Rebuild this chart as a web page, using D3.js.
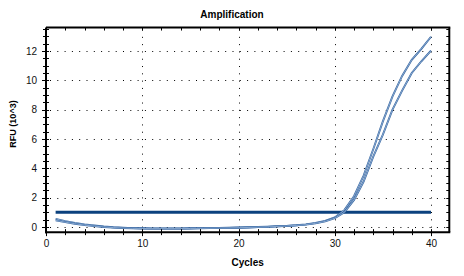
<!DOCTYPE html>
<html>
<head>
<meta charset="utf-8">
<script src="https://cdn.jsdelivr.net/npm/d3@7/dist/d3.min.js"></script>
<style>
  body { margin: 0; background: #fff; }
  text { font-family: Arial, "Liberation Sans", sans-serif; }
</style>
</head>
<body>
<svg id="chart" width="464" height="276"></svg>
<script>
// Cycle numbers
var cycles = [1, 2, 3, 4, 5, 6, 7, 8, 9, 10, 11, 12, 13, 14, 15, 16, 17, 18, 19, 20,
              21, 22, 23, 24, 25, 26, 27, 28, 29, 30, 31, 32, 33, 34, 35, 36, 37, 38, 39, 40];

// RFU (10^3) for the two wells
var wellA = [0.55, 0.40, 0.28, 0.18, 0.10, 0.03, -0.02, -0.05, -0.08, -0.09,
             -0.10, -0.10, -0.10, -0.10, -0.09, -0.08, -0.07, -0.06, -0.05, -0.03,
             -0.02, 0.00, 0.02, 0.05, 0.08, 0.12, 0.18, 0.28, 0.42, 0.65,
             1.15, 2.10, 3.50, 5.30, 7.20, 8.90, 10.30, 11.40, 12.15, 12.97];
var wellB = [0.45, 0.33, 0.22, 0.13, 0.06, 0.00, -0.04, -0.07, -0.09, -0.10,
             -0.11, -0.11, -0.11, -0.11, -0.10, -0.09, -0.08, -0.07, -0.06, -0.05,
             -0.03, -0.01, 0.01, 0.04, 0.07, 0.11, 0.16, 0.25, 0.38, 0.60,
             1.00, 1.85, 3.10, 4.80, 6.30, 8.00, 9.30, 10.50, 11.30, 12.02];

// Threshold line
var threshold = 1.0;
var thresholdRange = [1, 40];

// Tick labels
var xTicks = [0, 10, 20, 30, 40];
var yTicks = [0, 2, 4, 6, 8, 10, 12];

var svg = d3.select("#chart");

// Scales
var x = d3.scaleLinear().domain([0, 40]).range([46, 431]);
var y = d3.scaleLinear().domain([0, 12]).range([227, 51]);

// plot box edges
var xMax = 41.9, yMin = -0.35, yMax = 13.6;
var boxL = x(0), boxR = x(xMax), boxT = y(yMax), boxB = y(yMin);

var xMinor = d3.range(0, 41, 2);
var yMinor = d3.range(0, 13.51, 0.5);

// Grid (dotted)
var grid = svg.append("g")
    .attr("stroke", "#000")
    .attr("stroke-width", 1)
    .attr("stroke-dasharray", "1,6.3");

grid.selectAll(".gx")
    .data(xTicks.filter(d => d > 0))
    .enter().append("line")
    .attr("x1", d => Math.round(x(d)) + 0.5)
    .attr("x2", d => Math.round(x(d)) + 0.5)
    .attr("y1", boxT + 2)
    .attr("y2", boxB);

grid.selectAll(".gy")
    .data(yTicks)
    .enter().append("line")
    .attr("x1", boxL + 4)
    .attr("x2", boxR)
    .attr("y1", d => Math.round(y(d)) + 0.5)
    .attr("y2", d => Math.round(y(d)) + 0.5);

// Threshold
svg.append("line")
    .attr("x1", x(thresholdRange[0]))
    .attr("x2", x(thresholdRange[1]))
    .attr("y1", y(threshold))
    .attr("y2", y(threshold))
    .attr("stroke", "#0b417e")
    .attr("stroke-width", 3);

// Amplification curves
var line = d3.line()
    .x((d, i) => x(cycles[i]))
    .y(d => y(d));

[wellA, wellB].forEach(function(s) {
    svg.append("path")
        .attr("d", line(s))
        .attr("fill", "none")
        .attr("stroke", "#3263a0")
        .attr("stroke-width", 1.9);
    svg.append("path")
        .attr("d", line(s))
        .attr("fill", "none")
        .attr("stroke", "#c3d6ee")
        .attr("stroke-width", 0.6);
});

// Frame
var frame = svg.append("g")
    .attr("stroke", "#000")
    .attr("stroke-width", 2)
    .attr("fill", "none");
frame.append("line").attr("x1", boxL).attr("x2", boxL).attr("y1", boxT).attr("y2", boxB + 1);
frame.append("line").attr("x1", boxL - 1).attr("x2", boxR + 1).attr("y1", boxB).attr("y2", boxB);
frame.append("line").attr("x1", boxL).attr("x2", boxR + 1).attr("y1", boxT).attr("y2", boxT);
frame.append("line").attr("x1", boxR).attr("x2", boxR).attr("y1", boxT).attr("y2", boxB);

// Ticks on the frame
var ticks = svg.append("g").attr("stroke", "#000").attr("stroke-width", 1);

ticks.selectAll(".ty")
    .data(yMinor)
    .enter().append("line")
    .attr("x1", d => yTicks.indexOf(d) >= 0 ? boxL - 4 : boxL - 3)
    .attr("x2", boxL + 3)
    .attr("y1", d => Math.round(y(d)) + 0.5)
    .attr("y2", d => Math.round(y(d)) + 0.5);

ticks.selectAll(".tyr")
    .data(yMinor)
    .enter().append("line")
    .attr("x1", boxR - 3)
    .attr("x2", boxR)
    .attr("y1", d => Math.round(y(d)) + 0.5)
    .attr("y2", d => Math.round(y(d)) + 0.5);

ticks.selectAll(".tx")
    .data(xMinor)
    .enter().append("line")
    .attr("x1", d => Math.round(x(d)) + 0.5)
    .attr("x2", d => Math.round(x(d)) + 0.5)
    .attr("y1", boxB - 3)
    .attr("y2", d => xTicks.indexOf(d) >= 0 ? boxB + 4 : boxB + 3);

ticks.selectAll(".txt")
    .data(xMinor)
    .enter().append("line")
    .attr("x1", d => Math.round(x(d)) + 0.5)
    .attr("x2", d => Math.round(x(d)) + 0.5)
    .attr("y1", boxT)
    .attr("y2", boxT + 3);

// Axis labels through d3 axes
var xAxis = svg.append("g")
    .attr("transform", "translate(0," + boxB + ")")
    .call(d3.axisBottom(x).tickValues(xTicks).tickSize(0).tickPadding(8));
var yAxis = svg.append("g")
    .attr("transform", "translate(" + boxL + ",0)")
    .call(d3.axisLeft(y).tickValues(yTicks).tickSize(0).tickPadding(9));

[xAxis, yAxis].forEach(function(a) {
    a.select(".domain").remove();
    a.selectAll("text")
        .style("font-size", "10px")
        .style("font-family", "Arial, 'Liberation Sans', sans-serif")
        .attr("fill", "#111");
});

// Titles
svg.append("text")
    .attr("x", 232)
    .attr("y", 18)
    .attr("text-anchor", "middle")
    .style("font-size", "10px")
    .style("font-weight", "bold")
    .text("Amplification");

svg.append("text")
    .attr("x", (boxL + boxR) / 2)
    .attr("y", 266)
    .attr("text-anchor", "middle")
    .style("font-size", "10px")
    .style("font-weight", "bold")
    .text("Cycles");

svg.append("text")
    .attr("transform", "translate(16,124) rotate(-90)")
    .attr("text-anchor", "middle")
    .style("font-size", "9px")
    .style("font-weight", "bold")
    .text("RFU (10^3)");
</script>
</body>
</html>
